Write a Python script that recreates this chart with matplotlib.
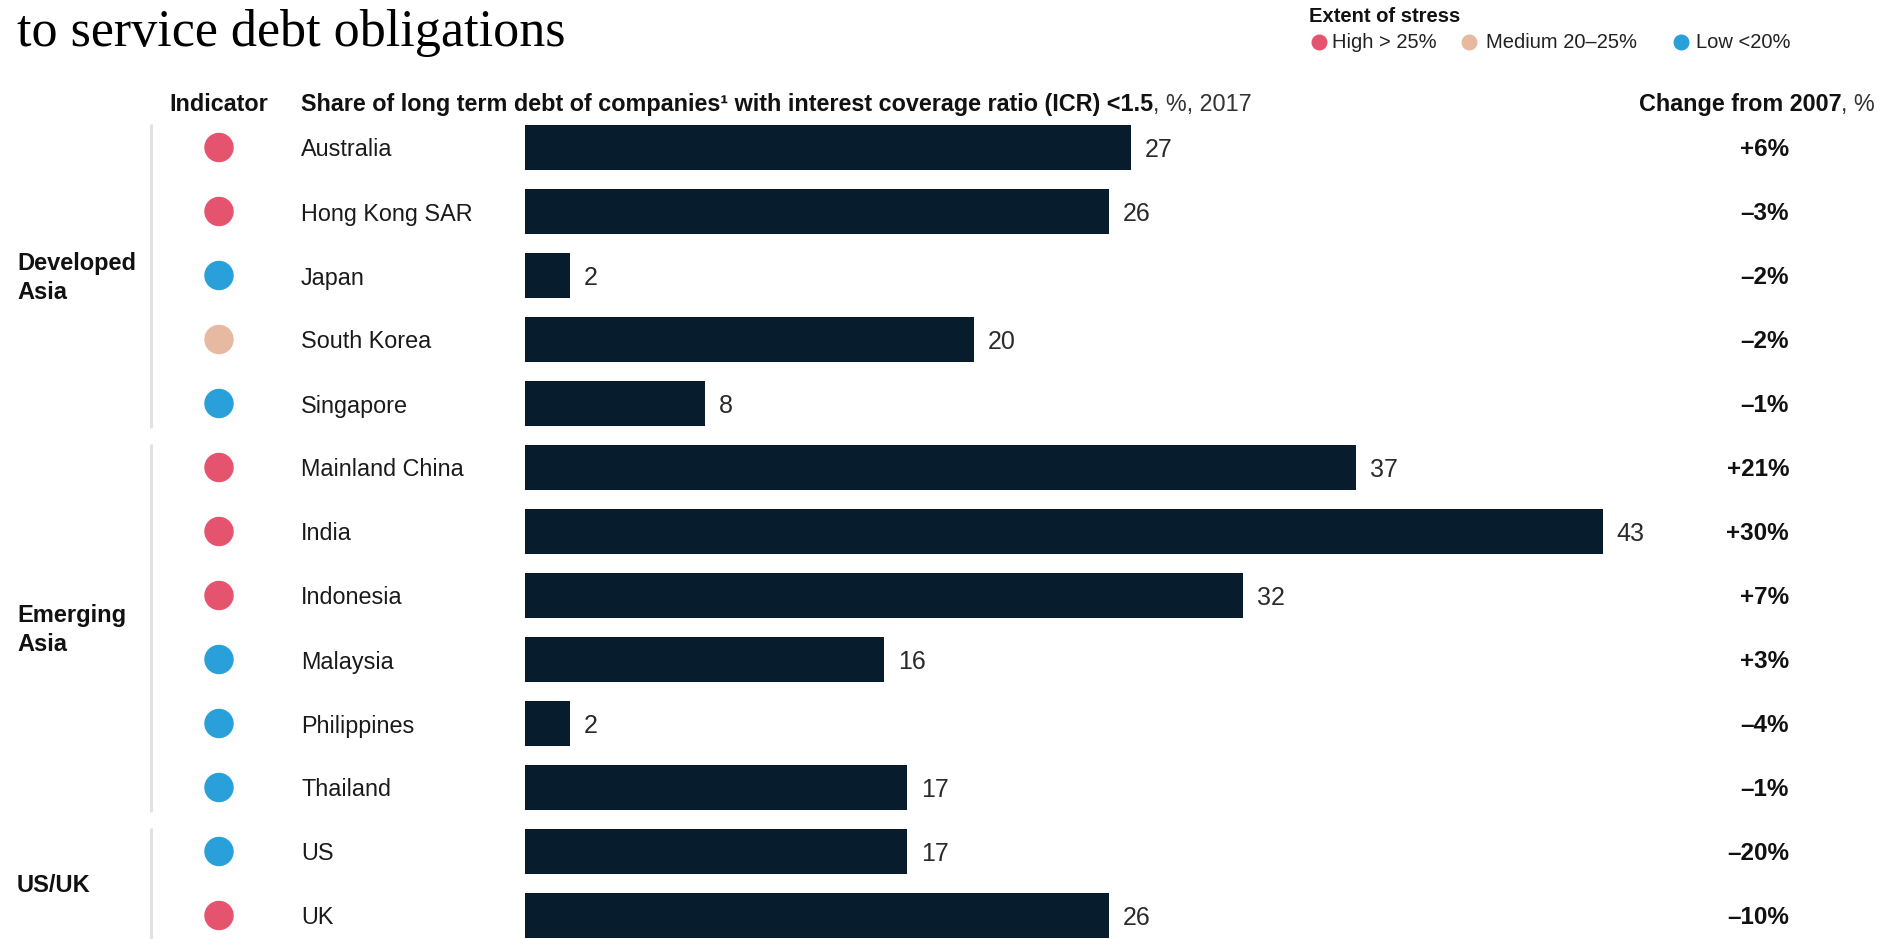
import matplotlib
matplotlib.use('Agg')
import matplotlib.pyplot as plt
import matplotlib.transforms as mtransforms

plt.rcParams['font.family'] = ['Liberation Sans', 'DejaVu Sans']

# Data
countries = ['Australia', 'Hong Kong SAR', 'Japan', 'South Korea', 'Singapore',
             'Mainland China', 'India', 'Indonesia', 'Malaysia', 'Philippines',
             'Thailand', 'US', 'UK']
share = [27, 26, 2, 20, 8, 37, 43, 32, 16, 2, 17, 17, 26]
# bar lengths as drawn in the source (India's bar is drawn longer than its label)
bar_len = [27, 26, 2, 20, 8, 37, 48, 32, 16, 2, 17, 17, 26]
stress = ['High', 'High', 'Low', 'Medium', 'Low', 'High', 'High', 'High',
          'Low', 'Low', 'Low', 'Low', 'High']
change_2007 = [6, -3, -2, -2, -1, 21, 30, 7, 3, -4, -1, -20, -10]
groups = ['Developed\nAsia', 'Emerging\nAsia', 'US/UK']
group_size = [5, 6, 2]

stress_colors = {'High': '#E5546E', 'Medium': '#E8B9A1', 'Low': '#2AA0DB'}
stress_labels = {'High': 'High > 25%', 'Medium': 'Medium 20\u201325%', 'Low': 'Low <20%'}
bar_color = '#071D2D'

# Layout (pixels of the 1885x939 canvas)
W, H = 1885, 939
px_unit = 22.45
bar_x0 = 525
row0, row_h = 147.5, 64.0
dy = 2.5 / row_h  # nudge text down so caps sit centred on the row

fig = plt.figure(figsize=(W / 100, H / 100), dpi=100)
ax = fig.add_axes([0, 0, 1, 1])
ax.axis('off')
ax.set_xlim(-bar_x0 / px_unit, (W - bar_x0) / px_unit)
ax.set_ylim((H - row0) / row_h, -row0 / row_h)
trans = mtransforms.blended_transform_factory(fig.transFigure, ax.transData)
renderer = fig.canvas.get_renderer()

rows = list(range(len(countries)))
ax.barh(rows, bar_len, height=0.7, color=bar_color)

for i, (b, s) in enumerate(zip(bar_len, share)):
    ax.text(b + 14 / px_unit, i + dy, str(s), va='center', ha='left',
            fontsize=18, color='#2A2A2A')

ax.scatter([219 / W] * len(rows), rows, s=28 ** 2 * 0.52,
           c=[stress_colors[s] for s in stress], transform=trans, zorder=3)

for i, name in enumerate(countries):
    ax.text(301 / W, i + dy, name, transform=trans, va='center', ha='left',
            fontsize=16.8, color='#1A1A1A')

for i, v in enumerate(change_2007):
    txt = ('+' if v > 0 else '\u2013') + f'{abs(v)}%'
    ax.text(1789 / W, i + dy, txt, transform=trans, va='center', ha='right',
            fontsize=17.5, fontweight='bold', color='#111111')

# group labels and separators
start = 0
for g, n in zip(groups, group_size):
    first, last = start, start + n - 1
    ax.text(17 / W, (first + last) / 2 + dy, g, transform=trans, va='center',
            ha='left', fontsize=17, fontweight='bold', color='#111111',
            linespacing=1.3)
    end = last + 0.38 if g != groups[-1] else last + 0.6
    ax.plot([151 / W, 151 / W], [first - 0.37, end], transform=trans,
            color='#E2E2E2', lw=2.2, solid_capstyle='butt')
    start += n

# column headers
hy = (104.5 - row0) / row_h
hs = 16.8
ax.text(219 / W, hy, 'Indicator', transform=trans, ha='center', va='center',
        fontsize=hs, fontweight='bold', color='#111111')
t = ax.text(301 / W, hy, 'Share of long term debt of companies\u00b9 with interest coverage ratio (ICR) <1.5',
            transform=trans, ha='left', va='center', fontsize=hs,
            fontweight='bold', color='#111111')
bb = t.get_window_extent(renderer)
ax.text(bb.x1 / W, hy, ', %, 2017', transform=trans, ha='left', va='center',
        fontsize=hs, color='#333333')
t = ax.text(1875 / W, hy, ', %', transform=trans, ha='right', va='center',
            fontsize=hs, color='#333333')
bb = t.get_window_extent(renderer)
ax.text(bb.x0 / W, hy, 'Change from 2007', transform=trans, ha='right',
        va='center', fontsize=hs, fontweight='bold', color='#111111')

# title (second line visible)
fig.text(17 / W, 1 - 46 / H, 'to service debt obligations', va='baseline',
         ha='left', fontsize=37.5, family='Liberation Serif', color='#000000')

# legend
fig.text(1309 / W, 1 - 16 / H, 'Extent of stress', va='center', ha='left',
         fontsize=14.5, fontweight='bold', color='#111111')
for key, dx, tx in [('High', 1319, 1332), ('Medium', 1469, 1486), ('Low', 1681, 1696)]:
    fig.lines.append(plt.Line2D([dx / W], [1 - 42 / H], marker='o', markersize=10.5,
                                color=stress_colors[key], linestyle='none',
                                transform=fig.transFigure))
    fig.text(tx / W, 1 - 42 / H, stress_labels[key], va='center', ha='left',
             fontsize=14.5, color='#222222')

fig.savefig('out.png', dpi=100)
